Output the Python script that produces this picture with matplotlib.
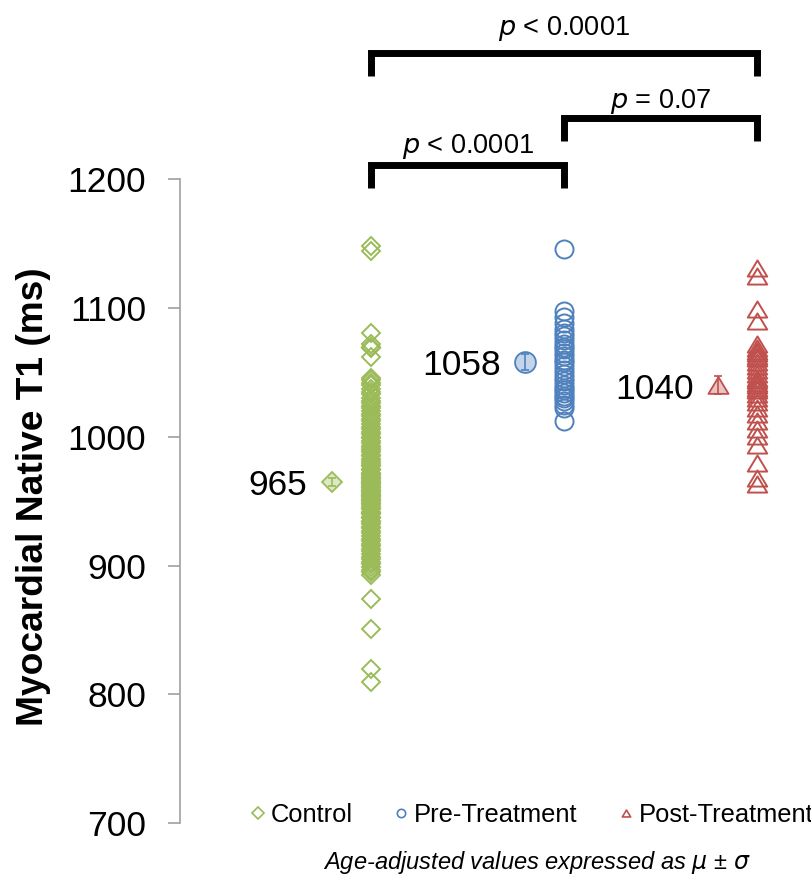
import numpy as np
import matplotlib
matplotlib.use('Agg')
import matplotlib.pyplot as plt
from matplotlib.lines import Line2D
from matplotlib.path import Path

plt.rcParams['font.family'] = ['Liberation Sans', 'DejaVu Sans']

# Group names and colours
groups = ['Control', 'Pre-Treatment', 'Post-Treatment']
colors = ['#9BBB59', '#4F81BD', '#C0504D']

# Individual T1 values (ms)
control = [1148, 1144, 1081, 1072, 1070, 1069, 1062, 1046, 1044, 1042,
           1040, 1037, 1035, 1033, 1030, 1028, 1026, 1024, 1022, 1020,
           1018, 1016, 1014, 1012, 1010, 1008, 1006, 1004, 1002, 1000,
           999, 997, 995, 993, 991, 990, 988, 986, 985, 983,
           981, 980, 978, 977, 975, 974, 972, 971, 970, 969,
           968, 967, 966, 965, 964, 963, 962, 961, 960, 959,
           958, 957, 956, 955, 954, 953, 952, 951, 950, 949,
           948, 946, 945, 944, 942, 941, 940, 938, 937, 935,
           934, 932, 930, 929, 927, 925, 923, 921, 919, 917,
           915, 913, 911, 909, 907, 905, 903, 901, 899, 897,
           895, 893, 874, 851, 820, 810]
pre_treatment = [1146, 1098, 1093, 1088, 1084, 1081, 1078, 1075, 1072, 1070,
                 1068, 1065, 1063, 1060, 1058, 1055, 1052, 1049, 1046, 1043,
                 1040, 1038, 1036, 1034, 1032, 1030, 1028, 1025, 1022, 1012]
post_treatment = [1131, 1125, 1099, 1090, 1072, 1069, 1067, 1065, 1063, 1061,
                  1058, 1055, 1052, 1049, 1046, 1044, 1042, 1040, 1038, 1036,
                  1033, 1030, 1027, 1022, 1018, 1012, 1006, 1001, 994, 980,
                  968, 963]

# Group means and error bars
means = [965, 1058, 1040]
errors = [3, 6, 7]

# Significance brackets: (from group, to group, label)
pvals = [(0, 1, '$p$ < 0.0001'), (1, 2, '$p$ = 0.07'), (0, 2, '$p$ < 0.0001')]
bracket_tops = [1211, 1247.5, 1298]
label_y = [1220.5, 1255.5, 1312]

yticks = [700, 800, 900, 1000, 1100, 1200]

# wide, flat triangle like the Excel marker
tri = Path([(-1, -0.83), (1, -0.83), (0, 0.83), (-1, -0.83)],
           [Path.MOVETO, Path.LINETO, Path.LINETO, Path.CLOSEPOLY])
markers = ['D', 'o', tri]
sizes = [8.9, 13, 14]
mean_sizes = [10, 15, 14.5]

fig = plt.figure(figsize=(8.12, 8.84), dpi=100)
ax = fig.add_axes([0.2217, 0.0687, 0.7783, 0.9314])

data = [control, pre_treatment, post_treatment]
xpos = np.arange(1, 4)

for i in range(3):
    ax.plot(np.full(len(data[i]), xpos[i]), data[i], linestyle='none',
            marker=markers[i], markersize=sizes[i], markerfacecolor='none',
            markeredgecolor=colors[i], markeredgewidth=1.4)
    ax.errorbar(xpos[i] - 0.2, means[i], yerr=errors[i], fmt='none',
                ecolor=colors[i], elinewidth=1.2, capsize=3, capthick=1.2, zorder=3)
    ax.plot(xpos[i] - 0.2, means[i], linestyle='none', marker=markers[i],
            markersize=mean_sizes[i], markerfacecolor=colors[i] + '55',
            markeredgecolor=colors[i], markeredgewidth=1.3, zorder=2)
    ax.annotate(str(means[i]), (xpos[i] - 0.2, means[i]), xytext=(-18, -9.5),
                textcoords='offset points', ha='right', va='baseline', fontsize=25.5)

# brackets
for (a, b, lab), top, ty in zip(pvals, bracket_tops, label_y):
    ax.plot([xpos[a], xpos[a], xpos[b], xpos[b]], [top - 18, top, top, top - 18],
            color='black', linewidth=5, solid_capstyle='butt', solid_joinstyle='miter',
            clip_on=False)
    ax.text((xpos[a] + xpos[b]) / 2, ty, lab, ha='center', va='baseline',
            fontsize=19.5)

ax.set_xlim(0.0104, 3.285)
ax.set_ylim(700, 1339.2)
ax.set_yticks(yticks)
ax.set_xticks([])
for s in ['top', 'right', 'bottom']:
    ax.spines[s].set_visible(False)
ax.spines['left'].set_bounds(700, 1200)
ax.spines['left'].set_color('#A0A0A0')
ax.spines['left'].set_linewidth(1.2)
ax.tick_params(axis='y', direction='out', length=8.6, width=1.2, color='#A0A0A0',
               pad=15.8, labelsize=25.5)

ax.set_ylabel('Myocardial Native T1 (ms)', fontsize=26.7, fontweight='bold')
ax.yaxis.set_label_coords(-0.204, 0.397)

# legend
handles = [Line2D([], [], linestyle='none', marker=markers[i], markersize=6,
                  markerfacecolor='none', markeredgecolor=colors[i], markeredgewidth=1.2)
           for i in range(3)]
fig.legend(handles, groups, loc='center', bbox_to_anchor=(0.655, 1 - 815 / 884),
           ncol=3, frameon=False, fontsize=18.4, handlelength=0.6, handletextpad=0.2,
           columnspacing=1.6, borderpad=0)

fig.text(537 / 812, 1 - 862 / 884, 'Age-adjusted values expressed as $\\mu$ \u00b1 $\\sigma$',
         ha='center', va='center', fontsize=17, style='italic')

fig.savefig('out.png', dpi=100)
